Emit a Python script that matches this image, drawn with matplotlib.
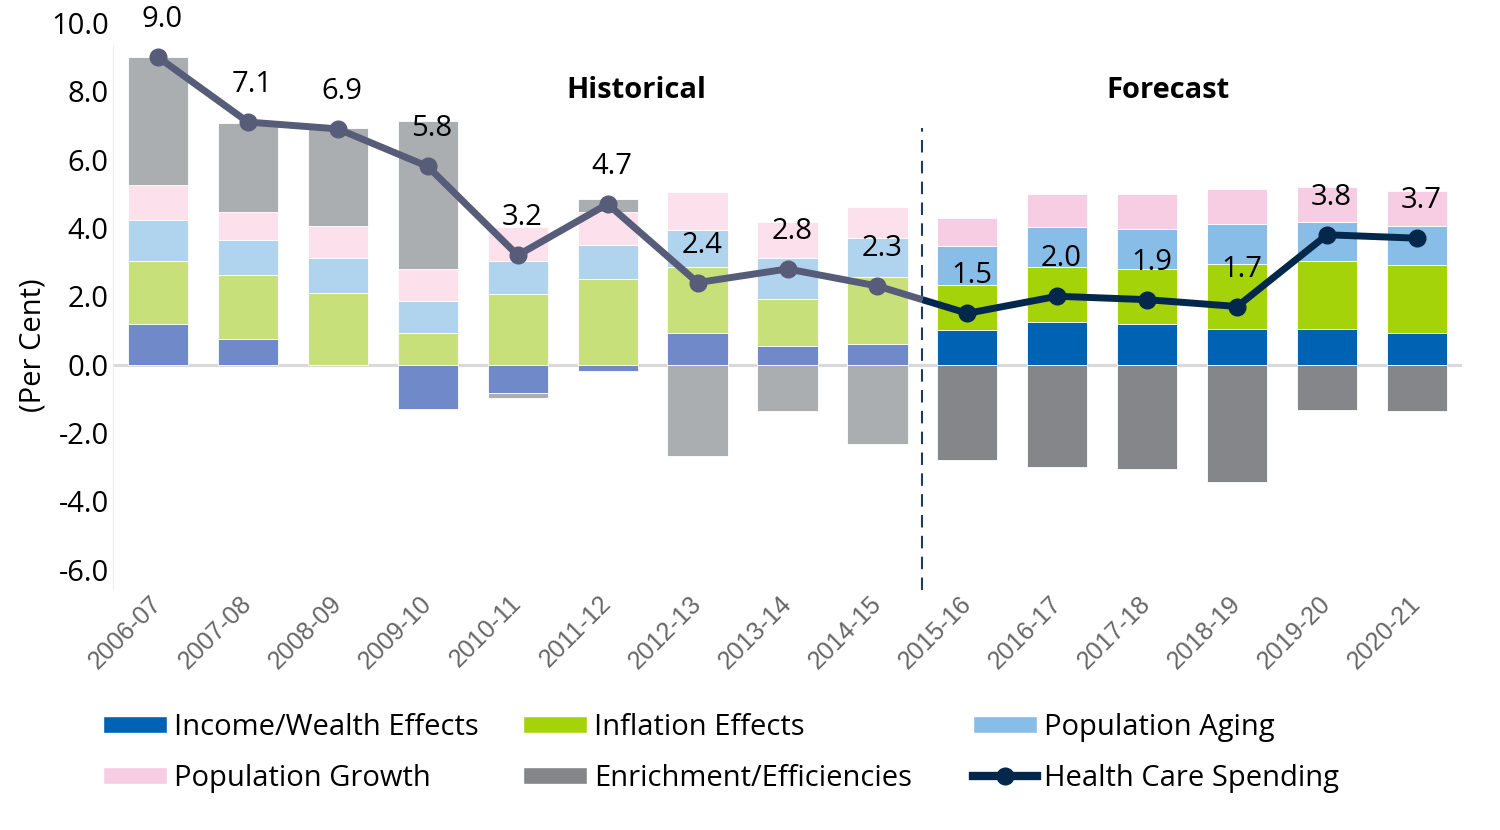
import numpy as np
import matplotlib
matplotlib.use("Agg")
import matplotlib.pyplot as plt
from matplotlib.patches import Patch
from matplotlib.lines import Line2D

cats = ["2006-07", "2007-08", "2008-09", "2009-10", "2010-11", "2011-12", "2012-13",
        "2013-14", "2014-15", "2015-16", "2016-17", "2017-18", "2018-19", "2019-20", "2020-21"]
income = [1.20, 0.76, 0.00, -1.29, -0.82, -0.18, 0.91, 0.53, 0.61, 1.02, 1.26, 1.20, 1.05, 1.05, 0.91]
inflation = [1.84, 1.87, 2.10, 0.91, 2.08, 2.51, 1.96, 1.40, 1.96, 1.32, 1.61, 1.61, 1.90, 1.99, 2.01]
aging = [1.20, 1.02, 1.03, 0.96, 0.96, 1.00, 1.08, 1.20, 1.14, 1.14, 1.17, 1.17, 1.17, 1.14, 1.14]
growth = [1.02, 0.82, 0.93, 0.94, 1.00, 0.96, 1.11, 1.05, 0.91, 0.82, 0.96, 1.02, 1.03, 1.02, 1.03]
enrich = [3.74, 2.61, 2.87, 4.32, -0.15, 0.38, -2.69, -1.37, -2.34, -2.78, -3.01, -3.07, -3.45, -1.34, -1.37]
spending = [9.0, 7.1, 6.9, 5.8, 3.2, 4.7, 2.4, 2.8, 2.3, 1.5, 2.0, 1.9, 1.7, 3.8, 3.7]
n_hist = 9  # first 9 years are historical

series_names = ["Income/Wealth Effects", "Inflation Effects", "Population Aging",
                "Population Growth", "Enrichment/Efficiencies"]
fc_colors = ["#0062b2", "#a5d30a", "#87bde6", "#f7cde4", "#858689"]
hist_colors = ["#7089c8", "#c8e07a", "#b0d3ee", "#fce0ec", "#abaeb1"]
line_hist = "#575c79"
line_fc = "#03284b"

FONT = ["Open Sans", "DejaVu Sans"]
plt.rcParams["font.family"] = FONT
FS = 21

fig = plt.figure(figsize=(15, 8.3), dpi=100)
ax = fig.add_axes([113 / 1500, 1 - 590 / 830, (1462 - 113) / 1500, (590 - 23) / 830])

x = np.arange(len(cats))
width = 0.67
pos_bottom = np.zeros(len(cats))
neg_bottom = np.zeros(len(cats))
for vals, fc, hc in zip([income, inflation, aging, growth, enrich], fc_colors, hist_colors):
    v = np.array(vals, dtype=float)
    bottoms = np.where(v >= 0, pos_bottom, neg_bottom)
    colors = [hc if i < n_hist else fc for i in range(len(cats))]
    ax.bar(x, v, width, bottom=bottoms, color=colors, edgecolor="white", linewidth=0.6, zorder=2)
    pos_bottom = pos_bottom + np.where(v >= 0, v, 0)
    neg_bottom = neg_bottom + np.where(v < 0, v, 0)

ax.axhline(0, color="#d9d9d9", linewidth=2.2, zorder=1.5)

# line: historical part up to the divider, forecast after
sp = np.array(spending)
xm = n_hist - 0.5
ym = np.interp(xm, x, sp)
ax.plot(np.r_[x[:n_hist], xm], np.r_[sp[:n_hist], ym], color=line_hist, lw=5, zorder=4,
        solid_capstyle="butt")
ax.plot(x[:n_hist], sp[:n_hist], "o", color=line_hist, ms=12, zorder=5)
ax.plot(np.r_[xm, x[n_hist:]], np.r_[ym, sp[n_hist:]], color=line_fc, lw=5, zorder=4,
        solid_capstyle="butt")
ax.plot(x[n_hist:], sp[n_hist:], "o", color=line_fc, ms=12, zorder=5)

for xi, v in zip(x, sp):
    ax.annotate(f"{v:.1f}", (xi, v), xytext=(3, 27), textcoords="offset points",
                ha="center", va="center", fontsize=FS, color="black", zorder=6)

ax.vlines(xm, -6.6, 6.93, colors="#1f3a5a", linestyles=(0, (6, 4)), linewidth=1.5, zorder=3)

ax.text(5.32, 8.03, "Historical", ha="center", va="center", fontsize=FS, fontweight="bold")
ax.text(11.23, 8.03, "Forecast", ha="center", va="center", fontsize=FS, fontweight="bold")

ax.set_xlim(-0.5, len(cats) - 0.5)
ax.set_ylim(-6.6, 10.0)
ax.set_yticks(np.arange(-6, 10.1, 2))
ax.set_yticklabels([f"{t:.1f}" for t in np.arange(-6, 10.1, 2)], fontsize=FS)
ax.set_xticks(x)
ax.set_xticklabels(cats, rotation=45, ha="right", va="center", rotation_mode="anchor",
                   fontsize=18, color="#666666", family=["Liberation Sans", "DejaVu Sans"])
ax.tick_params(axis="both", length=0)
ax.tick_params(axis="x", pad=7)
ax.tick_params(axis="y", pad=3)
for s in ["top", "right", "bottom"]:
    ax.spines[s].set_visible(False)
ax.spines["left"].set_color("#eeeeee")
ax.spines["left"].set_bounds(-6.6, 9.35)
fig.text(33 / 1500, 1 - 345 / 830, "(Per Cent)", rotation=90, ha="center", va="center",
         fontsize=FS)

# legend in three columns
handles = [Patch(facecolor=c, edgecolor="white") for c in fc_colors]
line_handle = Line2D([], [], color=line_fc, lw=6, marker="o", ms=12, markevery=[1])
cols = [
    ([handles[0], handles[3]], [series_names[0], series_names[3]], 103),
    ([handles[1], handles[4]], [series_names[1], series_names[4]], 523),
    ([handles[2], line_handle], [series_names[2], "Health Care Spending"], 973),
]
for h, l, px in cols:
    fig.legend(h, l, loc="upper left", bbox_to_anchor=(px / 1500, 1 - 713 / 830),
               frameon=False, fontsize=FS, handlelength=2.2, handleheight=0.5,
               handletextpad=0.25, labelspacing=0.74, borderpad=0, borderaxespad=0)

fig.savefig("out.png", dpi=100, facecolor="white")
